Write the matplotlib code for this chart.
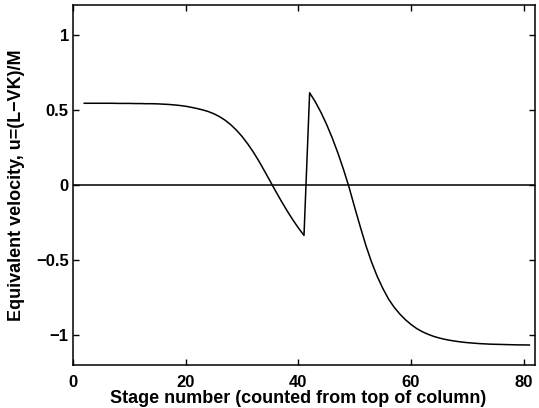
import numpy as np
import matplotlib.pyplot as plt

plt.rcParams['font.family'] = ['Liberation Sans', 'DejaVu Sans']
plt.rcParams['font.weight'] = 'bold'

# stage numbers and equivalent velocity
stages = list(range(2, 82))
u_vals = [
    0.545, 0.545, 0.545, 0.545, 0.545, 0.545, 0.544, 0.544, 0.544, 0.543,   # 2-11
    0.543, 0.542, 0.542, 0.541, 0.539, 0.537, 0.534, 0.530, 0.525, 0.518,   # 12-21
    0.510, 0.501, 0.490, 0.475, 0.456, 0.432, 0.402, 0.366, 0.324, 0.275,   # 22-31
    0.220, 0.159, 0.093, 0.025, -0.043, -0.109, -0.172, -0.231, -0.286, -0.336,  # 32-41
    0.615, 0.555, 0.485, 0.405, 0.315, 0.215, 0.105, -0.015, -0.150, -0.280,  # 42-51
    -0.405, -0.515, -0.610, -0.690, -0.760, -0.815, -0.860, -0.898, -0.930, -0.957,  # 52-61
    -0.978, -0.995, -1.009, -1.020, -1.029, -1.036, -1.042, -1.047, -1.051, -1.054,  # 62-71
    -1.057, -1.059, -1.061, -1.062, -1.063, -1.064, -1.065, -1.066, -1.066, -1.067,  # 72-81
]

xticks = [0, 20, 40, 60, 80]
yticks = [-1, -0.5, 0, 0.5, 1]
ytick_labels = ['\u22121', '\u22120.5', '0', '0.5', '1']

fig = plt.figure(figsize=(5.39, 4.08), dpi=100)
ax = fig.add_axes([0.1354, 0.1054, 0.8572, 0.8823])

ax.plot(stages, u_vals, color='black', lw=1.1)
ax.axhline(0, color='black', lw=1.1)

ax.set_xlim(0, 82)
ax.set_ylim(-1.2, 1.2)
ax.set_xticks(xticks)
ax.set_yticks(yticks)
ax.set_yticklabels(ytick_labels)
ax.tick_params(direction='in', top=True, right=True, length=4, width=1,
               labelsize=12)
ax.tick_params(axis='x', pad=7)
ax.tick_params(axis='y', pad=3)
for s in ax.spines.values():
    s.set_linewidth(1.1)

ax.set_xlabel('Stage number (counted from top of column)', fontsize=13,
              fontweight='bold', labelpad=0)
ax.xaxis.label.set_x(0.487)
ax.set_ylabel('Equivalent velocity, u=(L\u2212VK)/M', fontsize=13,
              fontweight='bold', labelpad=8)

fig.savefig('out.png', dpi=100)
